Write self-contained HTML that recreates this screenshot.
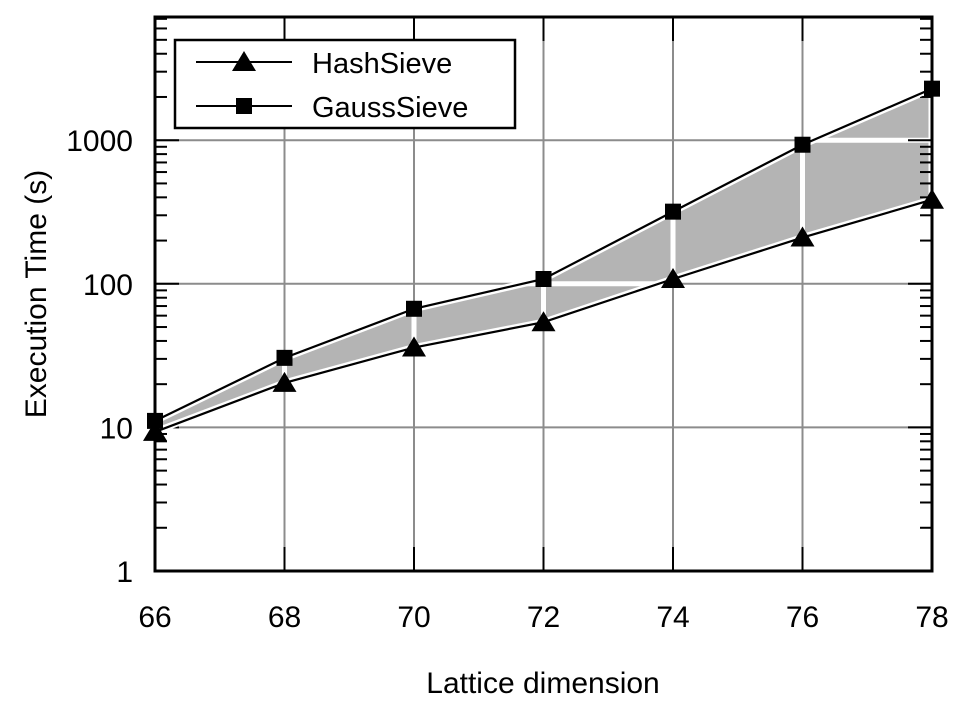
<!DOCTYPE html>
<html><head><meta charset="utf-8"><style>
body{margin:0;background:#fff;}
svg{display:block;font-family:"Liberation Sans",sans-serif;}
</style></head><body>
<svg id="c" width="968" height="712" viewBox="0 0 968 712"></svg>
<script>
const dims=[66,68,70,72,74,76,78];
const hashSieve=[9.3,20.4,36,54,108,210,385];
const gaussSieve=[11.1,30.5,67,108,318,930,2285];
const yTickLabels=["1","10","100","1000"];
const yTickValues=[1,10,100,1000];
const seriesNames=["HashSieve","GaussSieve"];

const L=155,R=932,T=17,B=571;
const X=d=>L+(d-66)/(78-66)*(R-L);
const DEC=143.6;
const Y=v=>B-Math.log10(v)*DEC;
const NS="http://www.w3.org/2000/svg";
const svg=document.getElementById('c');
function mk(tag,attrs,parent){const e=document.createElementNS(NS,tag);for(const k in attrs)e.setAttribute(k,attrs[k]);(parent||svg).appendChild(e);return e;}

const grid=mk('g',{});


dims.forEach(d=>{if(d>66&&d<78)mk('line',{x1:X(d),x2:X(d),y1:T,y2:B,stroke:'#8c8c8c','stroke-width':2},grid);});
yTickValues.forEach(v=>{if(v>1)mk('line',{x1:L,x2:R,y1:Y(v),y2:Y(v),stroke:'#8c8c8c','stroke-width':2},grid);});

const ptsTop=dims.map((d,i)=>X(d)+','+Y(gaussSieve[i]));
const ptsBot=dims.map((d,i)=>X(d)+','+Y(hashSieve[i])).reverse();
const polyPts=ptsTop.concat(ptsBot).join(' ');
const defs=mk('defs',{});
const cp=mk('clipPath',{id:'fc'},defs);
mk('polygon',{points:polyPts},cp);
const fill=mk('polygon',{points:polyPts,fill:'#b4b4b4',stroke:'#fff','stroke-width':7,'stroke-linejoin':'round'});


const gaps=mk('g',{'clip-path':'url(#fc)'});
dims.forEach(d=>mk('line',{x1:X(d),x2:X(d),y1:T,y2:B,stroke:'#fff','stroke-width':5},gaps));
yTickValues.forEach(v=>mk('line',{x1:L,x2:R,y1:Y(v),y2:Y(v),stroke:'#fff','stroke-width':5},gaps));

const ax=mk('g',{});


mk('rect',{x:L,y:T,width:R-L,height:B-T,fill:'none',stroke:'#000','stroke-width':3},ax);
for(let dec=0;dec<4;dec++){for(let m=1;m<10;m++){const v=Math.pow(10,dec)*m;if(Y(v)<T)continue;const len=m===1?24:12;
 mk('line',{x1:L,x2:L+len,y1:Y(v),y2:Y(v),stroke:'#000','stroke-width':2},ax);
 mk('line',{x1:R,x2:R-len,y1:Y(v),y2:Y(v),stroke:'#000','stroke-width':2},ax);}}
dims.forEach(d=>{mk('line',{x1:X(d),x2:X(d),y1:B,y2:B-24,stroke:'#000','stroke-width':2},ax);mk('line',{x1:X(d),x2:X(d),y1:T,y2:T+24,stroke:'#000','stroke-width':2},ax);
 const t=mk('text',{x:X(d),y:627,'font-size':30,'text-anchor':'middle'},ax);t.textContent=d;
 
 });
yTickValues.forEach((v,i)=>{const t=mk('text',{x:133,y:Y(v)+11,'font-size':30,'text-anchor':'end'},ax);t.textContent=yTickLabels[i];
 
 });
const xt=mk('text',{x:543,y:693,'font-size':30,'text-anchor':'middle'});xt.textContent='Lattice dimension';


const yt=mk('text',{x:46,y:294,'font-size':30,'text-anchor':'middle',transform:'rotate(-90 46 294)'});yt.textContent='Execution Time (s)';



function tri(x,y,p){return mk('polygon',{points:`${x},${y-11} ${x-12},${y+9} ${x+12},${y+9}`,fill:'#000'},p);}
function sq(x,y,p){return mk('rect',{x:x-8,y:y-8,width:16,height:16,fill:'#000'},p);}
[[hashSieve,tri,'hashsieve-series'],[gaussSieve,sq,'gausssieve-series']].forEach(([vals,mark,name])=>{
 const g=mk('g',{});
 
 
 const p=dims.map((d,i)=>X(d)+','+Y(vals[i])).join(' ');
 mk('polyline',{points:p,fill:'none',stroke:'#fff','stroke-width':6},g);
 mk('polyline',{points:p,fill:'none',stroke:'#000','stroke-width':2.2},g);
 dims.forEach((d,i)=>{const m=mark(X(d),Y(vals[i]),g);});
});

const lg=mk('g',{});


mk('rect',{x:175,y:40,width:340,height:88,fill:'#fff',stroke:'#000','stroke-width':2.5},lg);
[[tri,62],[sq,106]].forEach(([mark,y],i)=>{
 const e=mk('g',{},lg);
 
 
 mk('line',{x1:196,x2:292,y1:y,y2:y,stroke:'#000','stroke-width':2},e);
 mark(244,y,e);
 const t=mk('text',{x:312,y:y+11,'font-size':29},e);t.textContent=seriesNames[i];
});
</script>
</body></html>
